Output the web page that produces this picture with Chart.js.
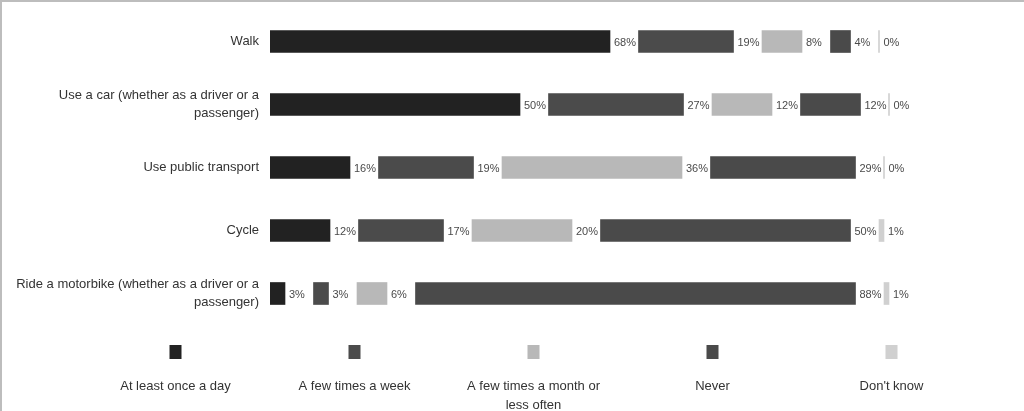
<!DOCTYPE html>
<html>
<head>
<meta charset="utf-8">
<script src="https://cdn.jsdelivr.net/npm/chart.js@4"></script>
<style>
  html, body { margin: 0; padding: 0; background: #fff; }
  #wrap { position: relative; width: 1024px; height: 411px; overflow: hidden; }
  .edge { position: absolute; background: #bdbdbd; }
</style>
</head>
<body>
<div id="wrap">
  <canvas id="chart" width="1024" height="411"></canvas>
  <div class="edge" style="left:0;top:0;width:1024px;height:2px"></div>
  <div class="edge" style="left:0;top:0;width:2px;height:411px"></div>
</div>
<script>
// ── Data ──
const categories = [
  ['Walk'],
  ['Use a car (whether as a driver or a', 'passenger)'],
  ['Use public transport'],
  ['Cycle'],
  ['Ride a motorbike (whether as a driver or a', 'passenger)'],
];
const seriesNames = ['At least once a day', 'A few times a week', 'A few times a month or less often', 'Never', "Don't know"];
const legendLines = [['At least once a day'], ['A few times a week'], ['A few times a month or', 'less often'], ['Never'], ["Don't know"]];

const atLeastDaily = [68, 50, 16, 12, 3];
const fewPerWeek   = [19, 27, 19, 17, 3];
const fewPerMonth  = [8, 12, 36, 20, 6];
const never        = [4, 12, 29, 50, 88];
const dontKnow     = [0, 0, 0, 1, 1];

const seriesValues = [atLeastDaily, fewPerWeek, fewPerMonth, never, dontKnow];
const seriesColors = ['#222222', '#4b4b4b', '#b8b8b8', '#4a4a4a', '#d0d0d0'];

// blank room after each segment for its value label
const GAP = 5.7;

// ── Datasets: real segment, then a transparent spacer ──
const datasets = [];
seriesValues.forEach((vals, i) => {
  datasets.push({
    label: seriesNames[i],
    data: vals,
    backgroundColor: seriesColors[i],
    minBarLength: i === 4 ? 1 : 0,
    isSeries: true,
  });
  if (i < seriesValues.length - 1) {
    datasets.push({
      label: 'gap' + i,
      data: vals.map(() => GAP),
      backgroundColor: 'rgba(0,0,0,0)',
      isSeries: false,
    });
  }
});

const valueLabels = {
  id: 'valueLabels',
  afterDatasetsDraw(chart) {
    const ctx = chart.ctx;
    ctx.save();
    ctx.font = '11px "Liberation Sans", Arial, sans-serif';
    ctx.fillStyle = '#4a4a4a';
    ctx.textAlign = 'left';
    ctx.textBaseline = 'middle';
    chart.data.datasets.forEach((ds, di) => {
      if (!ds.isSeries) return;
      chart.getDatasetMeta(di).data.forEach((el, j) => {
        ctx.fillText(ds.data[j] + '%', el.x + 4, el.y + 1);
      });
    });
    ctx.restore();
  }
};

const bottomLegend = {
  id: 'bottomLegend',
  afterDraw(chart) {
    const ctx = chart.ctx;
    const left = 86, itemW = 179;
    ctx.save();
    ctx.font = '13px "Liberation Sans", Arial, sans-serif';
    ctx.textAlign = 'center';
    ctx.textBaseline = 'middle';
    legendLines.forEach((lines, i) => {
      const cx = left + itemW * i + itemW / 2;
      ctx.fillStyle = seriesColors[i];
      ctx.fillRect(cx - 6, 345, 12, 14);
      ctx.fillStyle = '#333';
      lines.forEach((t, k) => ctx.fillText(t, cx, 386 + k * 19));
    });
    ctx.restore();
  }
};

new Chart(document.getElementById('chart'), {
  type: 'bar',
  data: { labels: categories, datasets },
  plugins: [valueLabels, bottomLegend],
  options: {
    responsive: false,
    animation: false,
    indexAxis: 'y',
    layout: { padding: { top: 10, bottom: 86, left: 0, right: 4 } },
    datasets: { bar: { barThickness: 22 } },
    plugins: {
      legend: { display: false },
      tooltip: { enabled: false },
    },
    scales: {
      x: {
        display: false,
        stacked: true,
        min: 0,
        max: 150,
      },
      y: {
        stacked: true,
        grid: { display: false, drawTicks: false },
        border: { display: false },
        ticks: {
          color: '#333',
          padding: 11,
          font: { family: '"Liberation Sans", Arial, sans-serif', size: 13, lineHeight: 1.38 },
        },
        afterFit(scale) {
          scale.width = 270;
          scale.paddingTop = 0;
          scale.paddingBottom = 0;
        },
      },
    },
  },
});
</script>
</body>
</html>
